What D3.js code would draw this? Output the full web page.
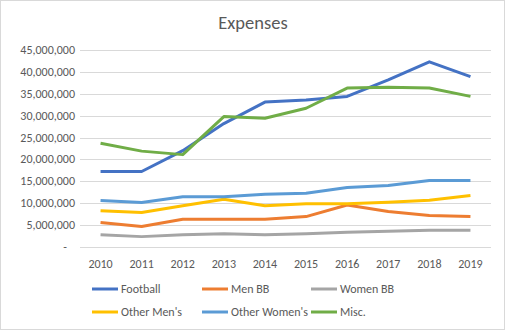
<!DOCTYPE html>
<html lang="en">
<head>
  <meta charset="UTF-8">
  <title>Expenses</title>
  <style>
    body { margin: 0; background: #fff; }
    svg text { font-family: Calibri, Carlito, "Liberation Sans", Arial, sans-serif; }
  </style>
</head>
<body>
  <div id="chart"></div>
  <script src="https://d3js.org/d3.v7.min.js"></script>
  <script>
    const years = ["2010", "2011", "2012", "2013", "2014", "2015", "2016", "2017", "2018", "2019"];
    const football = [17250000, 17250000, 22000000, 28200000, 33100000, 33600000, 34400000, 38200000, 42300000, 38900000];
    const menBB = [5570000, 4660000, 6340000, 6340000, 6340000, 6950000, 9600000, 8100000, 7200000, 6950000];
    const womenBB = [2820000, 2370000, 2820000, 3050000, 2820000, 3050000, 3360000, 3600000, 3800000, 3800000];
    const otherMens = [8300000, 7860000, 9400000, 10900000, 9400000, 9900000, 9900000, 10200000, 10700000, 11760000];
    const otherWomens = [10600000, 10150000, 11500000, 11500000, 12060000, 12300000, 13600000, 14050000, 15200000, 15200000];
    const misc = [23700000, 21900000, 21100000, 29800000, 29400000, 31700000, 36300000, 36500000, 36300000, 34400000];
    const yTicks = [0, 5000000, 10000000, 15000000, 20000000, 25000000, 30000000, 35000000, 40000000, 45000000];

    const series = [
      { name: "Football", values: football, color: "#4472C4" },
      { name: "Men BB", values: menBB, color: "#ED7D31" },
      { name: "Women BB", values: womenBB, color: "#A5A5A5" },
      { name: "Other Men's", values: otherMens, color: "#FFC000" },
      { name: "Other Women's", values: otherWomens, color: "#5B9BD5" },
      { name: "Misc.", values: misc, color: "#70AD47" }
    ];

    const width = 505, height = 330;
    const svg = d3.select("#chart").append("svg")
      .attr("width", width).attr("height", height);

    svg.append("rect")
      .attr("x", 0.5).attr("y", 0.5)
      .attr("width", width - 1).attr("height", height - 1)
      .attr("fill", "#fff").attr("stroke", "#d9d9d9");

    svg.append("text")
      .attr("x", 253).attr("y", 29)
      .attr("text-anchor", "middle")
      .attr("fill", "#595959")
      .style("font-size", "18.5px")
      .text("Expenses");

    const x = d3.scaleBand().domain(years).range([80, 491]);
    const y = d3.scaleLinear().domain([0, 45000000]).range([247, 50]);

    // gridlines
    svg.append("g").selectAll("line")
      .data(yTicks.slice(1))
      .join("line")
      .attr("x1", 80).attr("x2", 491)
      .attr("y1", d => Math.round(y(d)) + 0.5).attr("y2", d => Math.round(y(d)) + 0.5)
      .attr("stroke", "#d9d9d9");

    // axis baseline
    svg.append("line")
      .attr("x1", 80).attr("x2", 491)
      .attr("y1", Math.round(y(0)) + 0.5).attr("y2", Math.round(y(0)) + 0.5)
      .attr("stroke", "#d9d9d9");

    const fmt = d3.format(",d");
    svg.append("g").selectAll("text")
      .data(yTicks)
      .join("text")
      .attr("x", d => d === 0 ? 67 : 75)
      .attr("y", d => y(d) + 4)
      .attr("text-anchor", "end")
      .attr("fill", "#595959")
      .style("font-size", "12px")
      .text(d => d === 0 ? "-" : fmt(d));

    svg.append("g").selectAll("text")
      .data(years)
      .join("text")
      .attr("x", d => x(d) + x.bandwidth() / 2)
      .attr("y", 268)
      .attr("text-anchor", "middle")
      .attr("fill", "#595959")
      .style("font-size", "12px")
      .text(d => d);

    const line = d3.line()
      .x((d, i) => x(years[i]) + x.bandwidth() / 2)
      .y(d => y(d));

    svg.append("g").selectAll("path")
      .data(series)
      .join("path")
      .attr("d", d => line(d.values))
      .attr("fill", "none")
      .attr("stroke", d => d.color)
      .attr("stroke-width", 3)
      .attr("stroke-linejoin", "round");

    // legend
    const legendX = [92, 202, 311];
    const legendY = [289, 312];
    const items = svg.append("g").selectAll("g")
      .data(series)
      .join("g")
      .attr("transform", (d, i) => `translate(${legendX[i % 3]},${legendY[Math.floor(i / 3)]})`);

    items.append("line")
      .attr("x1", 0).attr("x2", 26)
      .attr("stroke", d => d.color)
      .attr("stroke-width", 3);

    items.append("text")
      .attr("x", 29).attr("y", 4)
      .attr("fill", "#595959")
      .style("font-size", "12px")
      .text(d => d.name);
  </script>
</body>
</html>
